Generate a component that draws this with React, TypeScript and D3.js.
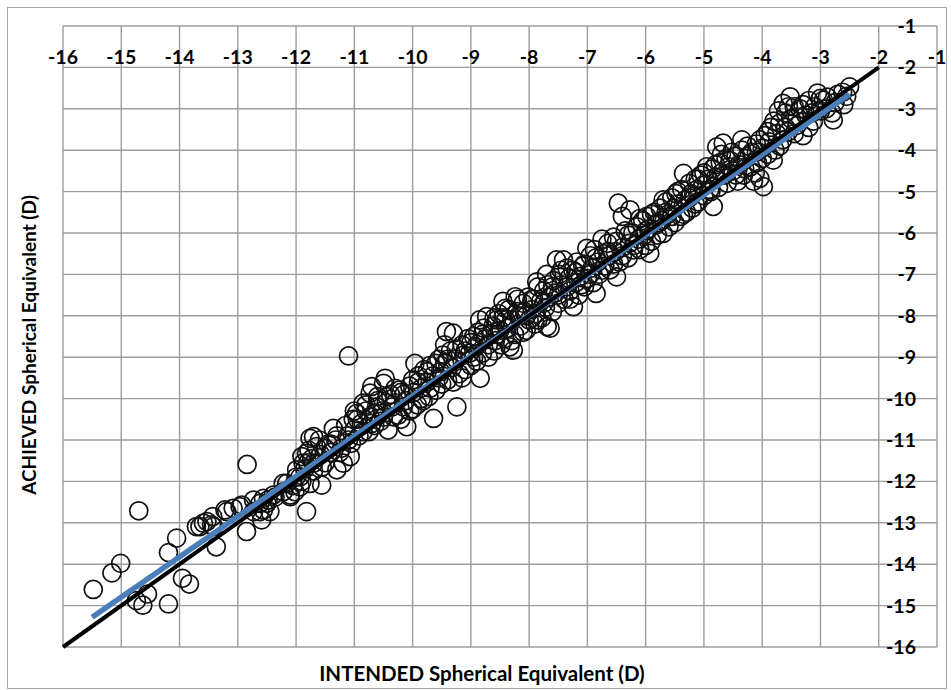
import React from "react";
import * as d3 from "d3";

// Tick values
const xTicks: number[] = d3.range(-16, 0, 1);
const yTicks: number[] = d3.range(-1, -17, -1);

// Identity line (intended = achieved)
const identityLine: [number, number][] = [[-16, -16], [-2, -2]];
// Regression line
const trendLine: [number, number][] = [[-15.5, -15.28], [-2.5, -2.65]];

// Scatter data: [intended, achieved]
const pointsLowMyopia: [number, number][] = [
  [-2.50,-2.47],[-2.55,-2.70],[-2.62,-2.60],[-2.75,-2.85],[-2.78,-3.27],[-2.80,-3.10],[-2.88,-2.72],[-2.95,-2.79],
  [-3.00,-3.05],[-3.05,-2.62],[-3.10,-2.95],[-3.12,-3.30],[-3.20,-2.80],[-3.25,-3.15],[-3.30,-3.65],[-3.35,-3.00],
  [-3.40,-3.40],[-3.45,-2.95],[-3.50,-3.25],[-3.52,-2.71],[-3.55,-3.55],[-3.60,-3.10],[-3.64,-2.87],[-3.65,-3.75],
  [-3.70,-3.35],[-3.72,-3.05],[-3.75,-3.60],[-3.78,-4.00],[-3.81,-4.24],[-3.85,-3.45],[-3.88,-3.80],[-3.90,-4.10],
  [-3.95,-3.65],[-3.98,-4.88],[-4.00,-3.95],[-4.04,-4.68],[-4.04,-3.75],
  [-4.08,-4.30],[-4.10,-3.85],[-4.12,-4.55],[-4.18,-4.05],[-4.20,-4.40],[-4.25,-3.90],[-4.28,-4.20],[-4.32,-4.60],
  [-4.35,-4.00],[-4.40,-4.35],[-4.42,-4.75],[-4.45,-4.15],[-4.50,-4.50],[-4.52,-4.05],[-4.58,-4.40],[-4.60,-4.80],
  [-4.62,-4.20],[-4.67,-3.83],[-4.70,-4.55],[-4.72,-4.30],[-4.75,-4.90],[-4.78,-3.92],[-4.80,-4.65],[-4.84,-5.36],
  [-4.85,-4.45],[-4.88,-5.00],[-4.92,-4.70],[-4.95,-4.40],[-5.00,-5.10],[-5.02,-4.85],[-5.05,-4.60],[-5.10,-5.25],
  [-5.12,-4.95],[-5.15,-4.70],[-5.20,-5.40],[-5.22,-5.05],[-5.25,-4.80],[-5.30,-5.50],[-5.32,-5.20],[-5.35,-4.56],
  [-5.38,-4.95],[-5.40,-5.60],[-5.45,-5.30],[-5.48,-5.05],[-5.50,-5.75],
];

const pointsMidMyopia: [number, number][] = [
  [-5.52,-5.40],[-5.55,-5.15],[-5.60,-5.85],[-5.62,-5.55],[-5.65,-5.25],[-5.70,-6.01],[-5.72,-5.70],[-5.75,-5.40],
  [-5.80,-6.05],[-5.82,-5.80],[-5.85,-5.50],[-5.90,-6.20],[-5.93,-6.49],[-5.95,-5.90],[-5.98,-5.60],[-6.00,-6.30],
  [-6.02,-6.05],[-6.05,-5.70],[-6.10,-6.40],[-6.12,-6.15],[-6.15,-5.85],[-6.21,-6.41],[-6.22,-6.00],[-6.27,-5.44],
  [-6.28,-6.25],[-6.30,-6.60],[-6.35,-5.95],[-6.40,-6.35],[-6.40,-5.60],[-6.45,-6.70],[-6.47,-5.28],[-6.50,-7.06],
  [-6.52,-6.45],[-6.55,-6.10],[-6.61,-6.89],[-6.62,-6.55],[-6.65,-6.25],[-6.70,-6.80],[-6.72,-6.50],[-6.75,-6.15],
  [-6.80,-7.00],[-6.82,-6.70],[-6.85,-7.46],[-6.88,-6.40],[-6.90,-7.20],[-6.92,-6.85],[-6.95,-6.55],[-7.00,-7.10],
  [-7.01,-6.37],
  [-7.05,-7.30],[-7.08,-6.80],[-7.12,-7.05],[-7.15,-7.50],[-7.18,-6.70],[-7.20,-7.20],[-7.24,-7.78],[-7.25,-6.90],
  [-7.30,-7.40],[-7.32,-7.10],[-7.35,-6.85],[-7.40,-7.60],[-7.41,-6.65],[-7.45,-7.25],[-7.48,-7.00],[-7.50,-7.70],
  [-7.53,-6.65],[-7.55,-7.45],[-7.58,-7.15],[-7.60,-7.90],[-7.64,-8.30],[-7.65,-7.55],[-7.68,-7.25],[-7.69,-8.26],
  [-7.72,-7.80],[-7.75,-7.40],[-7.78,-8.05],[-7.80,-7.65],[-7.85,-7.30],[-7.87,-7.18],[-7.88,-7.95],[-7.90,-8.20],
  [-7.92,-7.60],[-7.95,-7.85],[-8.00,-8.10],[-8.02,-7.55],[-8.05,-8.35],[-8.08,-7.90],[-8.10,-7.70],[-8.15,-8.25],
  [-8.18,-8.00],[-8.20,-7.60],[-8.24,-7.54],[-8.25,-8.45],[-8.27,-8.83],[-8.30,-8.10],[-8.33,-8.75],[-8.35,-7.85],
  [-8.38,-8.30],[-8.41,-7.82],[-8.42,-8.55],[-8.45,-8.05],[-8.48,-8.70],[-8.50,-8.35],
];

const pointsHighMyopia: [number, number][] = [
  [-8.52,-7.95],[-8.56,-8.10],[-8.58,-8.60],[-8.60,-8.85],[-8.62,-8.25],[-8.65,-8.45],[-8.70,-9.00],[-8.73,-8.02],
  [-8.75,-8.55],[-8.78,-8.30],[-8.80,-8.90],[-8.84,-9.51],[-8.85,-8.65],[-8.88,-8.40],[-8.90,-9.10],[-8.92,-8.75],
  [-8.95,-8.50],[-9.00,-9.20],[-9.02,-8.90],[-9.05,-8.55],[-9.10,-9.30],[-9.12,-8.95],[-9.15,-8.70],[-9.20,-9.40],
  [-9.24,-10.20],[-9.25,-9.05],[-9.30,-8.42],[-9.32,-9.25],[-9.35,-8.85],[-9.40,-9.55],[-9.42,-8.38],[-9.45,-9.15],
  [-9.48,-8.95],[-9.50,-9.65],[-9.52,-9.35],[-9.55,-9.05],[-9.60,-9.80],[-9.64,-10.48],[-9.65,-9.45],[-9.70,-9.20],
  [-9.72,-9.95],[-9.75,-9.60],[-9.80,-9.30],[-9.82,-10.05],[-9.85,-9.75],[-9.90,-9.45],[-9.92,-10.15],[-9.96,-9.15],
  [-9.98,-9.85],[-10.00,-10.25],
  [-10.05,-9.70],[-10.10,-10.68],[-10.12,-10.05],[-10.16,-10.20],[-10.20,-9.85],[-10.22,-9.79],[-10.25,-10.40],
  [-10.30,-10.10],[-10.33,-10.44],[-10.38,-9.90],[-10.42,-10.76],[-10.44,-9.95],[-10.47,-9.51],[-10.50,-9.63],
  [-10.52,-10.30],[-10.55,-10.55],[-10.60,-10.05],[-10.62,-10.20],[-10.65,-10.65],[-10.70,-9.71],[-10.73,-9.87],
  [-10.73,-10.44],[-10.75,-10.80],[-10.80,-10.30],[-10.85,-10.11],[-10.88,-10.60],[-10.92,-10.90],[-10.96,-10.36],
  [-11.00,-10.75],[-11.02,-10.50],[-11.05,-11.08],[-11.07,-11.40],[-11.10,-8.97],[-11.12,-10.90],[-11.19,-11.56],
  [-11.22,-11.20],[-11.30,-11.72],[-11.32,-11.00],[-11.36,-10.72],[-11.40,-11.30],[-11.45,-11.10],[-11.50,-11.55],
  [-11.56,-12.09],[-11.58,-11.35],[-11.65,-11.16],[-11.70,-11.56],[-11.70,-10.92],[-11.73,-11.45],[-11.76,-10.96],
  [-11.76,-12.05],[-11.78,-11.25],[-11.82,-11.32],[-11.82,-12.73],[-11.85,-11.70],[-11.88,-11.56],[-11.90,-11.40],
  [-11.93,-11.89],[-11.93,-12.13],[-11.99,-11.72],[-12.02,-12.25],
];

const pointsBandExtra: [number, number][] = [
  [-2.60,-2.90],[-2.70,-2.65],[-2.90,-3.00],[-3.00,-2.75],[-3.15,-3.10],[-3.20,-3.45],[-3.30,-2.90],[-3.40,-3.20],
  [-3.45,-3.60],[-3.55,-2.95],[-3.60,-3.45],[-3.70,-3.90],[-3.80,-3.30],[-3.90,-3.55],[-4.00,-4.20],[-4.10,-4.05],
  [-4.15,-4.75],[-4.30,-4.45],[-4.35,-3.75],[-4.45,-4.60],[-4.55,-4.25],[-4.65,-4.60],[-4.70,-4.10],[-4.80,-4.35],
  [-4.90,-4.95],[-5.00,-4.55],[-5.10,-4.70],[-5.15,-5.30],[-5.25,-5.15],[-5.35,-5.55],[-5.45,-5.00],[-5.55,-5.60],
  [-5.65,-5.50],[-5.70,-5.20],[-5.80,-5.75],[-5.90,-5.55],[-6.00,-5.95],[-6.10,-5.65],[-6.20,-6.30],[-6.30,-6.05],
  [-6.40,-6.55],[-6.50,-6.20],[-6.55,-6.75],[-6.65,-6.45],[-6.75,-6.90],[-6.85,-6.60],[-6.95,-7.00],[-7.05,-6.75],
  [-7.10,-7.25],[-7.20,-6.95],[-7.30,-7.60],[-7.35,-7.30],[-7.45,-6.90],[-7.50,-7.50],[-7.60,-7.30],[-7.70,-7.00],
  [-7.75,-7.70],[-7.85,-8.10],[-7.95,-7.60],[-8.05,-8.00],[-8.10,-8.40],[-8.20,-7.90],[-8.30,-8.60],[-8.40,-8.10],
  [-8.45,-7.65],[-8.55,-8.45],[-8.60,-8.05],[-8.70,-8.70],[-8.80,-8.45],[-8.85,-8.10],[-8.95,-9.00],[-9.00,-8.65],
  [-9.10,-8.85],[-9.15,-9.50],[-9.25,-8.80],[-9.30,-9.60],[-9.40,-9.05],[-9.45,-8.70],[-9.55,-9.50],[-9.60,-9.15],
  [-9.70,-9.75],[-9.75,-9.35],[-9.85,-10.00],[-9.90,-9.60],[-10.00,-9.55],[-10.05,-10.30],[-10.15,-9.90],
  [-10.20,-10.50],[-10.30,-9.75],[-10.35,-10.20],[-10.45,-10.10],[-10.50,-10.45],[-10.60,-9.95],[-10.65,-10.35],
  [-10.70,-10.60],[-10.80,-10.15],[-10.85,-10.80],[-10.95,-10.50],[-11.00,-10.30],[-11.10,-11.00],[-11.15,-10.65],
  [-11.25,-11.30],[-11.30,-10.90],[-11.40,-11.10],[-11.50,-11.20],[-11.55,-11.65],[-11.60,-11.00],[-11.70,-11.75],
  [-11.80,-11.55],[-11.90,-12.00],[-12.00,-11.90],[-12.05,-12.10],
];

const pointsExtremeMyopia: [number, number][] = [
  [-12.10,-12.33],[-12.10,-12.37],[-12.16,-12.05],[-12.22,-12.25],[-12.22,-12.05],[-12.36,-12.38],[-12.39,-12.33],
  [-12.45,-12.73],[-12.48,-12.45],[-12.50,-12.53],[-12.56,-12.41],[-12.56,-12.69],[-12.59,-12.93],[-12.62,-12.53],
  [-12.62,-12.73],[-12.73,-12.45],[-12.73,-12.73],[-12.84,-11.59],[-12.85,-13.21],[-12.93,-12.57],[-12.96,-12.61],
  [-13.08,-12.65],[-13.19,-12.73],[-13.22,-12.69],[-13.37,-13.58],[-13.42,-13.09],[-13.43,-12.85],[-13.45,-13.05],
  [-13.53,-12.97],[-13.59,-13.01],[-13.65,-13.09],[-13.71,-13.09],[-13.83,-14.48],[-13.95,-14.34],[-14.05,-13.37],
  [-14.19,-13.72],[-14.19,-14.96],[-14.55,-14.72],[-14.63,-14.99],[-14.70,-12.71],[-14.74,-14.88],[-15.01,-13.98],
  [-15.16,-14.21],[-15.48,-14.61],
];

const allPoints = [
  ...pointsLowMyopia, ...pointsMidMyopia, ...pointsHighMyopia, ...pointsBandExtra, ...pointsExtremeMyopia,
];

const W = 951;
const H = 690;
const FONT = "Lato, 'Open Sans', sans-serif";

export default function App() {
  const x = d3.scaleLinear().domain([-16, -1]).range([63, 937]);
  const y = d3.scaleLinear().domain([-1, -16]).range([26, 647]);
  const line = d3.line<[number, number]>().x(d => x(d[0])).y(d => y(d[1]));

  return (
    <svg width={W} height={H} style={{ position: "absolute", left: 0, top: 0, background: "#fff" }}>
      <rect x={7.5} y={7.5} width={939} height={681} fill="#fff" stroke="#a6a6a6" strokeWidth={1} />
      {/* gridlines */}
      {xTicks.map(t => (
        <line key={"gx" + t} x1={x(t)} x2={x(t)} y1={y(-1)} y2={y(-16)} stroke="#9c9c9c" strokeWidth={1.4} />
      ))}
      {yTicks.map(t => (
        <line key={"gy" + t} x1={x(-16)} x2={x(-1)} y1={y(t)} y2={y(t)} stroke="#9c9c9c" strokeWidth={1.4} />
      ))}
      {/* points */}
      <g fill="none" stroke="#111" strokeWidth={1.7}>
        {allPoints.map((p, i) => (
          <circle key={i} cx={x(p[0])} cy={y(p[1])} r={9} />
        ))}
      </g>
      {/* lines */}
      <path d={line(trendLine) || ""} stroke="#4a7ebb" strokeWidth={5.5} fill="none" />
      <path d={line(identityLine) || ""} stroke="#000" strokeWidth={4} fill="none" />
      {/* x tick labels (top) */}
      {xTicks.map(t => (
        <text key={"tx" + t} x={x(t)} y={64} textAnchor="middle" fontFamily={FONT} fontWeight="bold" fontSize={19.5} fill="#000">
          {t}
        </text>
      ))}
      {/* y tick labels (right) */}
      {yTicks.map(t => (
        <text key={"ty" + t} x={916} y={y(t) + 7} textAnchor="end" fontFamily={FONT} fontWeight="bold" fontSize={19.5} fill="#000">
          {t}
        </text>
      ))}
      {/* axis titles */}
      <text x={482} y={681} textAnchor="middle" fontFamily={FONT} fontWeight="bold" fontSize={20.5} fill="#000">
        INTENDED Spherical Equivalent (D)
      </text>
      <text transform={`translate(36,345) rotate(-90)`} textAnchor="middle" fontFamily={FONT} fontWeight="bold" fontSize={19} fill="#000">
        ACHIEVED Spherical Equivalent (D)
      </text>
    </svg>
  );
}
